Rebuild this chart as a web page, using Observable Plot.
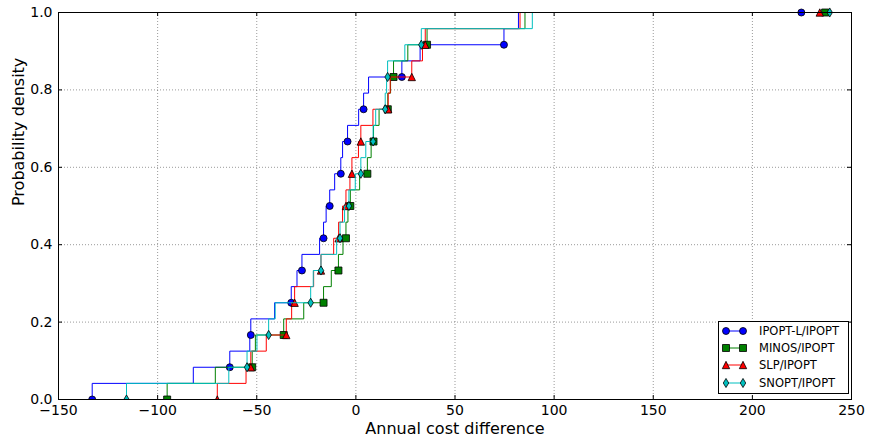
<!DOCTYPE html>
<html><head><meta charset="utf-8">
<script src="https://cdn.jsdelivr.net/npm/d3@7"></script>
<script src="https://cdn.jsdelivr.net/npm/@observablehq/plot@0.6"></script>
<style>
body{margin:0;background:#fff;font-family:"DejaVu Sans",sans-serif;}
#wrap{position:relative;width:869px;height:440px;}
#legend{position:absolute;left:718px;top:321px;width:131px;height:73px;border:1px solid #000;background:#fff;box-sizing:border-box;}
.row{position:absolute;left:0;height:14px;display:flex;align-items:center;font-size:11.5px;color:#000;white-space:nowrap;}
.row svg{display:block;}
.row span{margin-left:6px;}
</style></head>
<body><div id="wrap"></div>
<script>
// Series labels
const categories = ["IPOPT-L/IPOPT", "MINOS/IPOPT", "SLP/IPOPT", "SNOPT/IPOPT"];
// Sorted annual cost differences (ECDF points, y = i/24)
const ipoptL = [-133, -82, -63.6, -53.5, -53, -41, -32.6, -29.7, -27.2, -18.3, -16.3, -15, -13.2, -10.7, -7.6, -6.7, -4.2, 1.4, 3.9, 6.4, 23.2, 32.4, 74.7, 82, 224.7];
const minos  = [-95.2, -70.9, -52.3, -50.7, -36.4, -26.3, -16.3, -12.4, -8.8, -6.5, -5, -4, -2.8, 1.9, 5.8, 7.7, 8.9, 11.7, 16.1, 17.5, 19, 26.2, 35.9, 85.3, 236.7];
const slp    = [-69.9, -55.4, -53, -45.2, -35.1, -32.4, -30.9, -21.3, -17.6, -11.2, -8.7, -6.7, -5, -3, -2, 1.3, 2.5, 8.6, 16.3, 17.3, 28.2, 33.6, 35, 82.8, 234];
const snopt  = [-115.7, -64.1, -54.9, -49.9, -44, -40.7, -22.8, -21.5, -17.6, -9.7, -8, -5.7, -3.5, -0.3, 2.5, 5, 8.7, 10, 14.8, 15.5, 16, 24.7, 33, 89, 239];
// Axis ticks
const xTicks = [-150, -100, -50, 0, 50, 100, 150, 200, 250];
const yTicks = [0, 0.2, 0.4, 0.6, 0.8, 1.0];

const seriesValues = [ipoptL, minos, slp, snopt];
const colors = ["#0000ff", "#008000", "#ff0000", "#00bfbf"];

// marker symbols (matplotlib-like)
const rOf = size => Math.sqrt(size / Math.PI);
const symCircle = {draw(c, size){ const r = rOf(size); c.moveTo(r, 0); c.arc(0, 0, r, 0, 2*Math.PI); }};
const symSquare = {draw(c, size){ const r = rOf(size); c.moveTo(-r,-r); c.lineTo(r,-r); c.lineTo(r,r); c.lineTo(-r,r); c.closePath(); }};
const symTriangle = {draw(c, size){ const r = rOf(size)*1.05; c.moveTo(0,-r); c.lineTo(r,r); c.lineTo(-r,r); c.closePath(); }};
const symThinDiamond = {draw(c, size){ const h = rOf(size)*1.3, w = h*0.6; c.moveTo(0,-h); c.lineTo(w,0); c.lineTo(0,h); c.lineTo(-w,0); c.closePath(); }};
const symbols = [symCircle, symSquare, symTriangle, symThinDiamond];

const R = 3.5;
const marks = [
  Plot.gridX(xTicks, {stroke: "#000", strokeOpacity: 0.4, strokeDasharray: "1,2"}),
  Plot.gridY(yTicks, {stroke: "#000", strokeOpacity: 0.4, strokeDasharray: "1,2"})
];
categories.forEach((name, k) => {
  const vals = seriesValues[k];
  const n = vals.length - 1;
  const rows = vals.map((x, i) => ({series: name, i, x, y: i / n}));
  marks.push(Plot.line(rows, {x: "x", y: "y", curve: "step-before", stroke: colors[k], strokeWidth: 1}));
  marks.push(Plot.dot(rows.filter(d => d.i === 0), {x: "x", y: "y", r: R, symbol: symbols[k], fill: colors[k], stroke: "#000", strokeWidth: 0.8, clip: true}));
  marks.push(Plot.dot(rows.filter(d => d.i > 0 && d.i % 2 === 0), {x: "x", y: "y", r: R, symbol: symbols[k], fill: colors[k], stroke: "#000", strokeWidth: 0.8}));
});
marks.push(
  Plot.frame({stroke: "#000", strokeWidth: 1}),
  Plot.tickX(xTicks, {x: d => d, insetTop: 383, stroke: "#000"}),
  Plot.tickX(xTicks, {x: d => d, insetBottom: 383, stroke: "#000"}),
  Plot.tickY(yTicks, {y: d => d, insetRight: 789, stroke: "#000"}),
  Plot.tickY(yTicks, {y: d => d, insetLeft: 789, stroke: "#000"}),
  Plot.axisX(xTicks, {anchor: "bottom", tickSize: 0, tickPadding: 6, label: null, fontSize: 14}),
  Plot.axisY(yTicks, {anchor: "left", tickSize: 0, tickPadding: 6, tickFormat: d3.format(".1f"), label: null, fontSize: 14}),
  Plot.text(["Annual cost difference"], {frameAnchor: "bottom", dy: 34, fontSize: 16, fill: "#000"}),
  Plot.text(["Probability density"], {frameAnchor: "left", dx: -40, rotate: -90, fontSize: 16, fill: "#000"})
);

const chart = Plot.plot({
  width: 869, height: 440,
  marginLeft: 58, marginRight: 18, marginTop: 12, marginBottom: 41,
  style: {fontFamily: "DejaVu Sans", fontSize: "14px", color: "#000", background: "#fff", overflow: "visible"},
  x: {domain: [-150, 250]},
  y: {domain: [0, 1]},
  marks
});
const wrap = document.getElementById("wrap");
wrap.appendChild(chart);

// Legend (inside plot, bottom right)
const legend = document.createElement("div");
legend.id = "legend";
categories.forEach((name, k) => {
  const row = document.createElement("div");
  row.className = "row";
  row.style.top = (2 + 17.2 * k) + "px";
  const svg = d3.create("svg").attr("width", 34).attr("height", 14);
  svg.append("line").attr("x1", 7).attr("x2", 24).attr("y1", 7).attr("y2", 7).attr("stroke", colors[k]).attr("stroke-width", 1);
  [7, 24].forEach(cx => {
    svg.append("path").attr("transform", `translate(${cx},7)`)
      .attr("d", d3.symbol(symbols[k], Math.PI * R * R)())
      .attr("fill", colors[k]).attr("stroke", "#000").attr("stroke-width", 0.8);
  });
  row.appendChild(svg.node());
  const span = document.createElement("span");
  span.textContent = name;
  row.appendChild(span);
  legend.appendChild(row);
});
wrap.appendChild(legend);
</script>
</body></html>
